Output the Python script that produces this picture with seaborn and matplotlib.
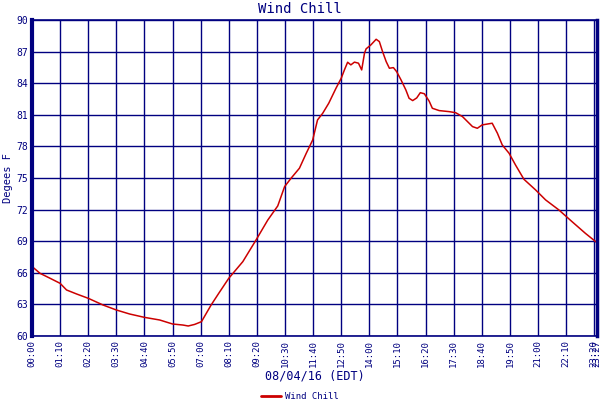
import matplotlib
matplotlib.use("Agg")
import matplotlib.pyplot as plt
import seaborn as sns
import pandas as pd

# minutes since midnight and wind chill (deg F)
minutes = [0, 20, 45, 70, 86, 111, 140, 177, 210, 243, 280, 318, 350, 376, 389,
           405, 422, 446, 465, 490, 525, 558, 587, 612, 629, 645, 666, 683, 699,
           711, 724, 739, 757, 770, 778, 786, 794, 803, 813, 821, 828, 832, 844,
           857, 865, 873, 882, 890, 900, 908, 919, 931, 939, 948, 958, 967, 977,
           989, 997, 1014, 1039, 1055, 1072, 1097, 1109, 1121, 1146, 1159, 1171,
           1188, 1204, 1225, 1254, 1279, 1312, 1345, 1378, 1407]
chill = [66.6, 65.95, 65.48, 65.0, 64.37, 63.99, 63.58, 62.94, 62.47, 62.09,
         61.77, 61.52, 61.14, 61.04, 60.95, 61.1, 61.36, 62.94, 64.05, 65.48,
         67.06, 69.12, 71.0, 72.35, 74.18, 74.97, 75.93, 77.35, 78.61, 80.51,
         81.15, 82.1, 83.52, 84.47, 85.26, 85.99, 85.74, 86.0, 85.9, 85.26,
         86.85, 87.26, 87.64, 88.17, 87.95, 87.0, 86.05, 85.42, 85.48, 85.1,
         84.31, 83.36, 82.57, 82.35, 82.6, 83.1, 83.0, 82.3, 81.62, 81.4, 81.3,
         81.2, 80.83, 79.88, 79.72, 80.04, 80.2, 79.25, 78.14, 77.35, 76.24,
         74.88, 73.87, 72.92, 71.97, 70.85, 69.75, 68.86]

x_ticks = list(range(0, 1401, 70)) + [1407]
x_labels = ["%02d:%02d" % (m // 60, m % 60) for m in x_ticks]
y_ticks = list(range(60, 91, 3))

navy = "#000080"
red = "#cc0000"

sns.set_style("white")
plt.rcParams["font.family"] = ["DejaVu Sans Mono", "DejaVu Sans"]

df = pd.DataFrame({"time": minutes, "Wind Chill": chill})

fig = plt.figure(figsize=(6, 4), dpi=100)
ax = fig.add_axes([32 / 600, 64 / 400, 565 / 600, 316 / 400])

sns.lineplot(data=df, x="time", y="Wind Chill", color=red, linewidth=1.1, ax=ax)

ax.set_xlim(0, 1407)
ax.set_ylim(60, 90)
ax.set_xticks(x_ticks)
ax.set_xticklabels(x_labels, rotation=90, fontsize=6.5, color=navy)
ax.set_yticks(y_ticks)
ax.set_yticklabels([str(v) for v in y_ticks], fontsize=7, color=navy)
ax.tick_params(length=0, pad=3)
ax.grid(True, color=navy, linewidth=1.0)

for side, sp in ax.spines.items():
    sp.set_color(navy)
    sp.set_linewidth(1.2)
ax.spines["left"].set_linewidth(3)
ax.spines["right"].set_linewidth(2.5)

ax.set_xlabel("08/04/16 (EDT)", color=navy, fontsize=8.5, labelpad=2)
ax.set_ylabel("Degees F", color=navy, fontsize=7.5)
ax.yaxis.set_label_coords(-0.034, 0.5)
fig.suptitle("Wind Chill", color=navy, fontsize=10, y=0.995)

leg = ax.legend(handles=[plt.Line2D([], [], color=red, linewidth=2)],
                labels=["Wind Chill"], loc="lower center",
                bbox_to_anchor=(0.5, -0.012), bbox_transform=fig.transFigure,
                frameon=False, fontsize=6.5, handlelength=2.2, handletextpad=0.4,
                borderaxespad=0.0)
for t in leg.get_texts():
    t.set_color(navy)

fig.savefig("out.png", dpi=100)
